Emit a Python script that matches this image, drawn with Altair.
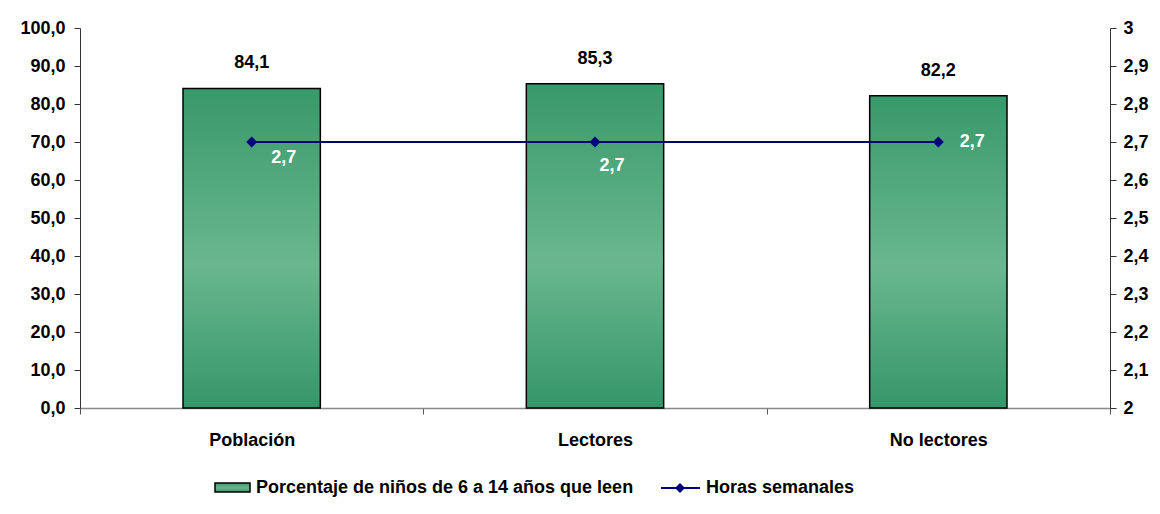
import altair as alt
import pandas as pd

categorias = ["Población", "Lectores", "No lectores"]
porcentaje = [84.1, 85.3, 82.2]
horas = [2.7, 2.7, 2.7]
serie_barras = "Porcentaje de niños de 6 a 14 años que leen"
serie_linea = "Horas semanales"

df = pd.DataFrame({"cat": categorias, "pct": porcentaje, "horas": horas})

FONT = "Liberation Sans"
W, H = 1030, 380

xenc = alt.X("cat:N", sort=categorias,
             scale=alt.Scale(paddingInner=0, paddingOuter=0),
             axis=alt.Axis(title=None, labelAngle=0, tickBand="extent",
                           labelFontSize=18, labelPadding=17,
                           tickColor="#555", domainColor="#888", domainWidth=1.5))

grad = alt.LinearGradient(gradient="linear", x1=0, x2=0, y1=0, y2=1, stops=[
    alt.GradientStop(color="#38996A", offset=0),
    alt.GradientStop(color="#6AB78F", offset=0.55),
    alt.GradientStop(color="#35966A", offset=1),
])

yleft = alt.Y("pct:Q", scale=alt.Scale(domain=[0, 100], nice=False),
              axis=alt.Axis(title=None, values=[0, 10, 20, 30, 40, 50, 60, 70, 80, 90, 100],
                            labelOverlap=False, labelPadding=9,
                            labelExpr="replace(format(datum.value, '.1f'), '.', ',')"))

bars = alt.Chart(df).mark_bar(fill=grad, stroke="black", strokeWidth=1.5,
                              width=alt.RelativeBandSize(0.4)).encode(x=xenc, y=yleft)

bar_labels = alt.Chart(df).transform_calculate(
    lab="replace(format(datum.pct, '.1f'), '.', ',')"
).mark_text(font=FONT, fontSize=18, fontWeight="bold", color="black",
            baseline="bottom", dy=-16).encode(x=xenc, y=yleft, text="lab:N")

left = alt.layer(bars, bar_labels)

yright = alt.Y("horas:Q", scale=alt.Scale(domain=[2, 3], nice=False),
               axis=alt.Axis(title=None, orient="right", labelOverlap=False, labelPadding=7,
                             values=[2, 2.1, 2.2, 2.3, 2.4, 2.5, 2.6, 2.7, 2.8, 2.9, 3],
                             labelExpr="replace(format(datum.value, '.1~f'), '.', ',')"))

line = alt.Chart(df).mark_line(color="#000080", strokeWidth=2).encode(x=xenc, y=yright)
pts = alt.Chart(df).mark_point(shape="diamond", filled=True, color="#000080", size=120, opacity=1).encode(
    x=xenc, y=yright)

offsets = {"Población": (32, 16), "Lectores": (17, 24), "No lectores": (34, 0)}
line_labels = []
for c in categorias:
    dx, dy = offsets[c]
    line_labels.append(
        alt.Chart(df).transform_filter(alt.datum.cat == c).transform_calculate(
            lab="replace(format(datum.horas, '.1f'), '.', ',')"
        ).mark_text(font=FONT, fontSize=18, fontWeight="bold", color="white",
                    dx=dx, dy=dy).encode(x=xenc, y=yright, text="lab:N"))

right = alt.layer(line, pts, *line_labels)

# legend
leg_df = pd.DataFrame({"a": [0]})
leg_rect = alt.Chart(leg_df).mark_rect(fill=grad, stroke="black", strokeWidth=1.5).encode(
    x=alt.value(135), x2=alt.value(170), y=alt.value(455), y2=alt.value(464))
leg_t1 = alt.Chart(leg_df).mark_text(font=FONT, fontSize=18, fontWeight="bold", color="black",
                                     align="left", baseline="middle").encode(
    x=alt.value(176), y=alt.value(460), text=alt.value(serie_barras))
leg_line = alt.Chart(leg_df).mark_rule(color="#000080", strokeWidth=2).encode(
    x=alt.value(581), x2=alt.value(620), y=alt.value(460))
leg_pt = alt.Chart(leg_df).mark_point(shape="diamond", filled=True, color="#000080", size=100, opacity=1).encode(
    x=alt.value(600), y=alt.value(460))
leg_t2 = alt.Chart(leg_df).mark_text(font=FONT, fontSize=18, fontWeight="bold", color="black",
                                     align="left", baseline="middle").encode(
    x=alt.value(626), y=alt.value(460), text=alt.value(serie_linea))
legend = alt.layer(leg_rect, leg_t1, leg_line, leg_pt, leg_t2)

chart = alt.layer(left, right, legend).resolve_scale(y="independent").properties(
    width=W, height=H, autosize=alt.AutoSizeParams(type="none"),
    padding={"left": 72, "top": 20, "right": 42, "bottom": 98}
).configure(
    background="white",
    view=alt.ViewConfig(stroke=None),
    axis=alt.AxisConfig(labelFont=FONT, labelFontSize=18, labelFontWeight="bold",
                        labelColor="black", labelOverlap=False, grid=False, tickSize=6,
                        tickColor="#333", domainColor="#333", title=None),
)

chart.save("out.html", embed_options={"renderer": "svg", "actions": False})
